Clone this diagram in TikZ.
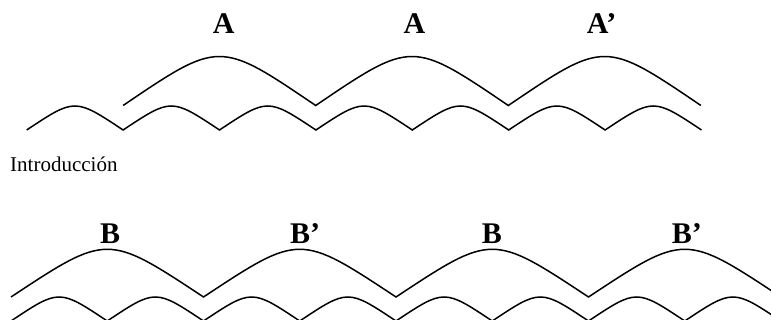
\documentclass[tikz,border=0pt]{standalone}
\usepackage{fontspec}
\setmainfont{Liberation Serif}
\begin{document}
\begin{tikzpicture}[x=1pt,y=-1pt,
  arcline/.style={line width=1.5pt, line join=miter},
  lbl/.style={font=\fontsize{30}{30}\selectfont\bfseries, inner sep=0pt, anchor=base west},
  intro/.style={font=\fontsize{21}{21}\selectfont, inner sep=0pt, anchor=base west}]
\useasboundingbox (0,0) rectangle (771,320);
\begin{scope}
\clip (0,0) rectangle (771,320);
% top row: small arcs
\draw[arcline] (26.7,130) foreach \i in {0,...,6} { .. controls ({26.7+96.4*\i+48.2},98) .. ({26.7+96.4*(\i+1)},130) };
% top row: big arcs
\draw[arcline] (123.1,105.5) foreach \i in {0,...,2} { .. controls ({123.1+192.6*\i+96.3},40.2) .. ({123.1+192.6*(\i+1)},105.5) };
% bottom row: big arcs
\draw[arcline] (11,297) foreach \i in {0,...,3} { .. controls ({11+192.5*\i+96.25},233.4) .. ({11+192.5*(\i+1)},297) };
% bottom row: small arcs
\draw[arcline] (11,321) foreach \i in {0,...,7} { .. controls ({11+96.25*\i+48.125},289) .. ({11+96.25*(\i+1)},321) };
\end{scope}
% labels
\node[lbl] (a1) at (212.7,34) {A};
\node[lbl] (a2) at (403.3,34) {A};
\node[lbl] (a3) at (586.7,34) {A’};
\node[intro] (intro) at (10,171.7) {Introducción};
\node[lbl] (b1) at (100,243.3) {B};
\node[lbl] (b2) at (290,243.3) {B’};
\node[lbl] (b3) at (481.7,243.3) {B};
\node[lbl] (b4) at (671.7,243.3) {B’};
\end{tikzpicture}
\end{document}
